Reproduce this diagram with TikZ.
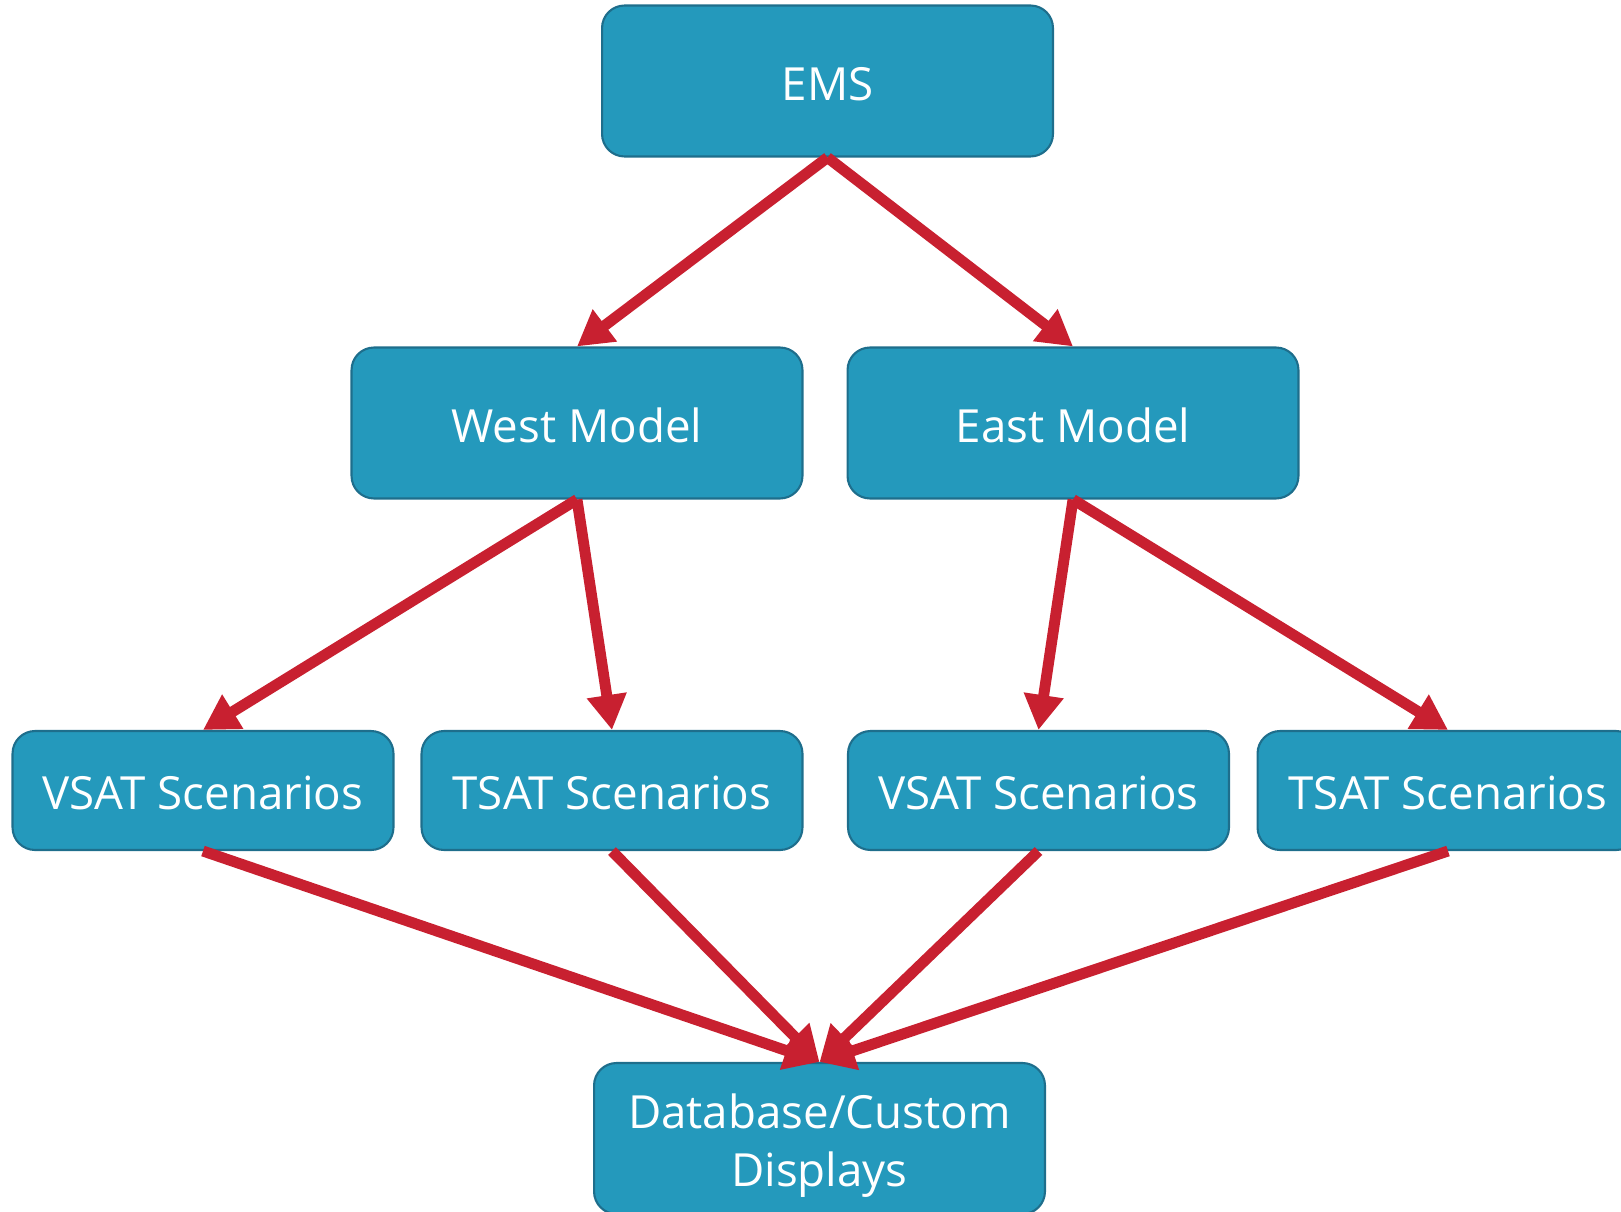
\documentclass[tikz,border=0pt]{standalone}
\usepackage{fontspec}
\setmainfont{Open Sans}
\usetikzlibrary{arrows.meta, positioning}
\definecolor{boxblue}{RGB}{36, 153, 188}
\definecolor{boxedge}{RGB}{30, 110, 140}
\definecolor{flowred}{RGB}{200, 32, 48}

\begin{document}
\begin{tikzpicture}[x=0.02cm, y=-0.02cm,
  block/.style={draw=boxedge, line width=1.2pt, fill=boxblue, rounded corners=0.45cm, text=white, font=\fontsize{26}{33}\selectfont, minimum width=9.02cm, minimum height=3.02cm, inner sep=0pt, align=center},
  oneline/.style={text height=22pt, text depth=0pt},
  scen/.style={block, oneline, minimum width=7.62cm, minimum height=2.38cm},
  flow/.style={-{Triangle[length=0.7cm, width=0.76cm]}, line width=6.2pt, flowred}]
  \useasboundingbox (0,0) rectangle (1621,1212);
  \clip (0,0) rectangle (1621,1212);

  % Source and models
  \node[block, oneline] (ems) at (827.5, 81) {EMS};
  \node[block, oneline] (west) at (577, 423) {West Model};
  \node[block, oneline] (east) at (1073, 423) {East Model};

  % Scenario boxes
  \node[scen] (wvsat) at (203, 790.5) {VSAT Scenarios};
  \node[scen] (wtsat) at (612, 790.5) {TSAT Scenarios};
  \node[scen] (evsat) at (1038.5, 790.5) {VSAT Scenarios};
  \node[scen] (etsat) at (1448, 790.5) {TSAT Scenarios};

  % Output
  \node[block, text height=61pt] (db) at (819.5, 1138.5) {Database/Custom\\Displays};

  % Connectors
  \draw[flow] (ems.south) -- (west.north);
  \draw[flow] (ems.south) -- (east.north);
  \draw[flow] (west.south) -- (wvsat.north);
  \draw[flow] (west.south) -- (wtsat.north);
  \draw[flow] (east.south) -- (evsat.north);
  \draw[flow] (east.south) -- (etsat.north);
  \foreach \s in {wvsat, wtsat, evsat, etsat}
    \draw[flow] (\s.south) -- (db.north);
\end{tikzpicture}
\end{document}
